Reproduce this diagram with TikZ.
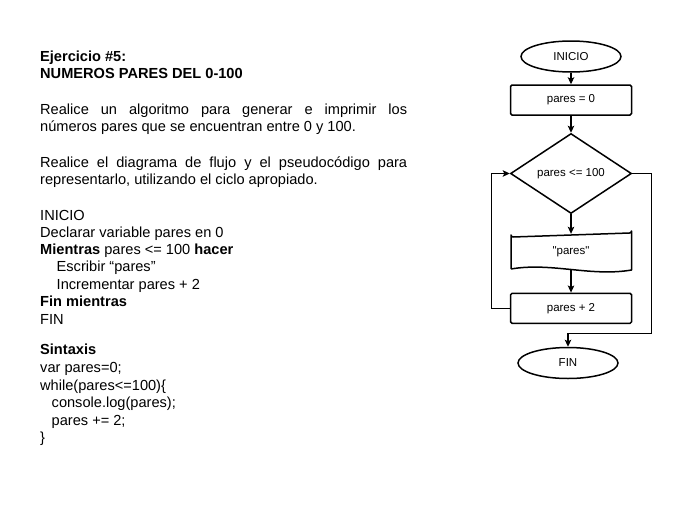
\documentclass[tikz,border=0pt]{standalone}
\usepackage{fontspec}
\setmainfont{Liberation Sans}
\newfontfamily\rawfont[Ligatures=ResetAll]{Liberation Sans}
\usetikzlibrary{shapes.geometric,arrows.meta}
\begin{document}
\begin{tikzpicture}[x=1pt,y=-1pt,
  txt/.style={anchor=base west,inner sep=0pt,font=\fontsize{14.6}{17}\selectfont},
  fcfont/.style={font=\fontsize{11.5}{14}\selectfont},
  term/.style={ellipse,draw,line width=1.5pt,minimum width=100pt,minimum height=31pt,inner sep=0pt,fcfont},
  proc/.style={rectangle,draw,rounded corners=1.5pt,line width=1.5pt,minimum width=121pt,minimum height=30pt,inner sep=0pt,fcfont},
  dec/.style={diamond,draw,line width=1.5pt,minimum width=121pt,minimum height=80pt,inner sep=0pt,fcfont},
  conn/.style={line width=1.1pt,-{Stealth[length=7pt,width=6.5pt,inset=1.5pt]}},
  wire/.style={line width=1.1pt}]
\fill[white] (0,0) rectangle (700,530);
\useasboundingbox (0,0) rectangle (700,530);

% left text
\node[txt] (t1) at (40,61) {\bfseries Ejercicio \#5:};
\node[txt] (t2) at (40,78) {\bfseries NUMEROS PARES DEL 0-100};
\node[txt] (t3) at (40,114) {\makebox[367pt][s]{Realice un algoritmo para generar e imprimir los}};
\node[txt] (t4) at (40,131) {números pares que se encuentran entre 0 y 100.};
\node[txt] (t5) at (40,167) {\makebox[367pt][s]{Realice el diagrama de flujo y el pseudocódigo para}};
\node[txt] (t6) at (40,184) {representarlo, utilizando el ciclo apropiado.};
\node[txt] (p1) at (40,220) {INICIO};
\node[txt] (p2) at (40,237) {Declarar variable pares en 0};
\node[txt] (p3) at (40,254) {\textbf{Mientras} pares <= 100 \textbf{hacer}};
\node[txt] (p4) at (56.5,271.5) {Escribir “pares”};
\node[txt] (p5) at (56.5,289) {Incrementar pares + 2};
\node[txt] (p6) at (40,306.5) {\bfseries Fin mientras};
\node[txt] (p7) at (40,324) {FIN};
\node[txt] (s1) at (40,354) {\bfseries Sintaxis};
\node[txt] (s2) at (40,372.5) {var pares=0;};
\node[txt] (s3) at (40,390) {while(pares<=100)\{};
\node[txt] (s4) at (51.5,407.5) {console.log(pares);};
\node[txt] (s5) at (51.5,425) {pares += 2;};
\node[txt] (s6) at (40,442) {\}};

% flowchart
\node[term] (ini) at (571,56.5) {INICIO};
\node[proc] (set) at (571,100) {pares = 0};
\node[dec] (cond) at (571,173.5) {pares <= 100};
\draw[line width=1.5pt,line join=round] (511,269) -- (511,235) arc[start angle=180,end angle=90,radius=2] -- (629.5,233) arc[start angle=90,end angle=0,radius=2] -- (631.5,270)
  .. controls (591,277) and (551,262) .. (511,269);
\node[rectangle,minimum width=121pt,minimum height=36pt,inner sep=0pt,font={\rawfont\fontsize{11.5}{14}\selectfont}] (doc) at (571,252) {"pares"};
\coordinate (docbot) at (571,269.5);
\node[proc] (inc) at (571,308.3) {pares + 2};
\node[term] (fin) at (568,363) {FIN};
\coordinate (l1) at (491.7,308.3);
\coordinate (l2) at (491.7,173.5);
\coordinate (r1) at (651.7,173.5);
\coordinate (r2) at (651.7,333.3);

\draw[conn] (ini) -- (set);
\draw[conn] (set) -- (cond);
\draw[conn] (cond.south) -- (doc.north);
\draw[conn] (docbot) -- (inc.north);
\draw[conn] (inc.west) -- (l1) -- (l2) -- (cond.west);
\draw[conn] (cond.east) -- (r1) -- (r2) -| (fin.north);
\end{tikzpicture}
\end{document}
